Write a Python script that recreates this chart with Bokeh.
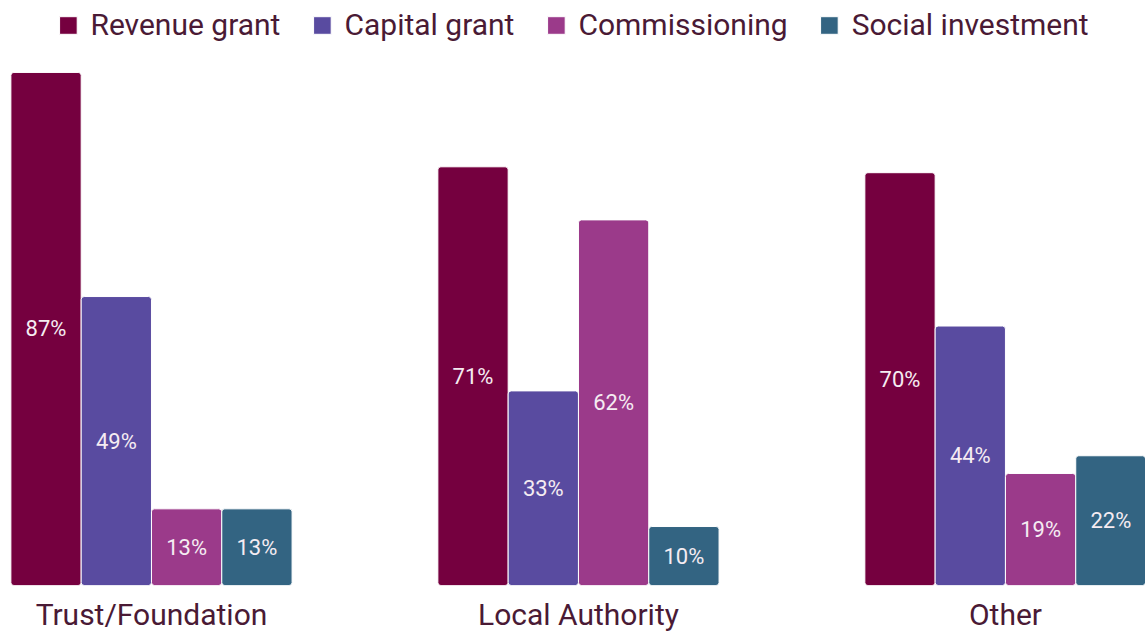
from bokeh.plotting import figure
from bokeh.models import ColumnDataSource, FixedTicker, Legend, LegendItem
from bokeh.transform import dodge
from bokeh.embed import file_html
from bokeh.resources import INLINE
from bokeh.core.properties import value

categories = ["Trust/Foundation", "Local Authority", "Other"]
series = ["Revenue grant", "Capital grant", "Commissioning", "Social investment"]
revenue_grant = [87, 71, 70]
capital_grant = [49, 33, 44]
commissioning = [13, 62, 19]
social_investment = [13, 10, 22]
colors = ["#75003F", "#594BA0", "#9B3A8A", "#336482"]

TEXT = "#4A1A35"
FONT = "Roboto"

p = figure(width=1145, height=634, x_range=(-0.3536, 2.328), y_range=(0, 99.2),
           output_backend="svg", toolbar_location=None, y_axis_location=None,
           min_border_left=0, min_border_right=0, min_border_top=0, min_border_bottom=0)

xs = list(range(len(categories)))
all_vals = [revenue_grant, capital_grant, commissioning, social_investment]
offsets = [-1.5, -0.5, 0.5, 1.5]
bw = 70.3 / 427.0
items = []
for name, vals, col, off in zip(series, all_vals, colors, offsets):
    src = ColumnDataSource(dict(x=xs, top=vals, mid=[v / 2 for v in vals],
                                lab=[f"{v}%" for v in vals]))
    r = p.vbar(x=dodge("x", off * bw, range=p.x_range), top="top", width=bw,
               source=src, fill_color=col, line_color="white", line_width=1,
               border_radius=3)
    p.text(x=dodge("x", off * bw, range=p.x_range), y="mid", text="lab", source=src,
           text_font=value(FONT), text_font_size="22px", text_color="#F5ECF2",
           text_align="center", text_baseline="middle")
    items.append(LegendItem(label=name, renderers=[r]))

legend = Legend(items=items, orientation="horizontal", location="top_center",
                label_text_font=FONT, label_text_font_size="30px", label_text_color=TEXT,
                glyph_width=22, glyph_height=22, label_standoff=12, spacing=30,
                background_fill_alpha=0, border_line_color=None, margin=7, padding=6)
p.add_layout(legend)

p.xaxis.ticker = FixedTicker(ticks=xs)
p.xaxis.major_label_overrides = {i: c for i, c in zip(xs, categories)}
p.xaxis.major_label_text_font = FONT
p.xaxis.major_label_text_font_size = "30px"
p.xaxis.major_label_text_color = TEXT
p.xaxis.major_label_standoff = 5
p.xaxis.axis_line_color = None
p.xaxis.major_tick_line_color = None
p.xaxis.minor_tick_line_color = None
p.xgrid.grid_line_color = None
p.ygrid.grid_line_color = None
p.outline_line_color = None

open("out.html", "w").write(file_html(p, INLINE))
